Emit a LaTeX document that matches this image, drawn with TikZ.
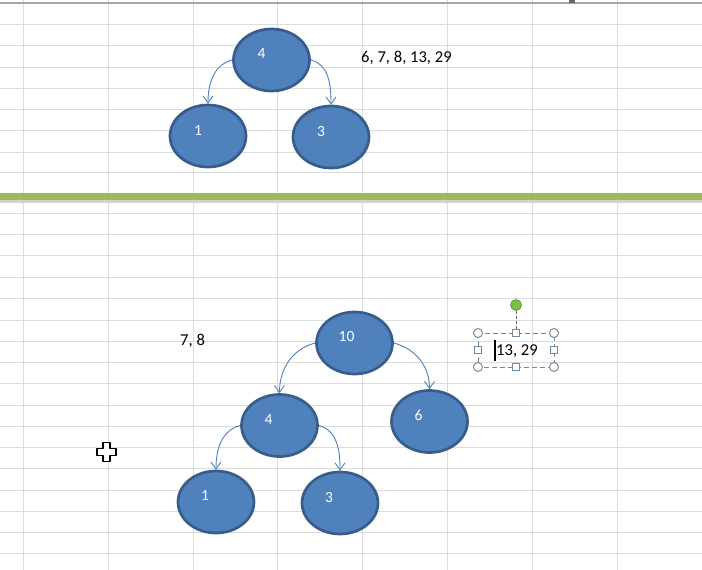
\documentclass[tikz,border=0pt]{standalone}
\usepackage{fontspec}
\setmainfont{Carlito}
\usetikzlibrary{shapes.geometric,arrows.meta}
\definecolor{obfill}{HTML}{4F81BD}
\definecolor{obline}{HTML}{385D8A}
\definecolor{gridc}{HTML}{DADCDE}
\definecolor{greenbar}{HTML}{9BBB59}
\definecolor{selc}{HTML}{6F8BA8}
\definecolor{handleg}{HTML}{7CC242}
\tikzset{
  gridline/.style={draw=gridc,line width=1pt},
  treenode/.style={ellipse,fill=obfill,draw=obline,line width=2.7pt,
    minimum width=76pt,minimum height=62pt,inner sep=0pt},
  lbl/.style={text=white,font=\fontsize{15.5}{18}\selectfont,inner sep=0pt},
  txt/.style={text=black,font=\fontsize{16.6}{19}\selectfont,inner sep=0pt,anchor=west},
  edge/.style={draw=obfill,line width=0.9pt,-{Straight Barb[length=7pt,width=10pt]}},
  selbox/.style={draw=selc,line width=1pt,dash pattern=on 5pt off 3pt},
  cornerh/.style={circle,draw=gray,fill=white,line width=0.9pt,minimum size=9pt,inner sep=0pt},
  sideh/.style={rectangle,draw=selc,fill=white,line width=0.9pt,minimum size=7.5pt,inner sep=0pt},
}
\begin{document}
\begin{tikzpicture}[x=1pt,y=-1pt]
\useasboundingbox (0,0) rectangle (702,570);
\fill[white] (0,0) rectangle (702,570);
% grid
\foreach \x in {23,108,193,277,362,447,532,617}
  \draw[gridline] (\x,0) -- (\x,570);
\foreach \y in {24,45,67,88,109,130,152,172,213,234,255,277,298,320,341,362,383,405,426,447,468,490,511,532,553}
  \draw[gridline] (0,\y) -- (702,\y);
\draw[draw=gray!70,line width=1.2pt] (0,3) -- (702,3);
\fill[gray!80!black] (569,0) rectangle (575,3);
% green separator
\fill[gray!35] (0,198.5) rectangle (702,202.5);
\fill[greenbar] (0,193.3) rectangle (702,199.5);
% top tree
\node[treenode,label={[lbl,xshift=-10pt,yshift=6pt]center:4}] (t4) at (271.5,60) {};
\node[treenode,label={[lbl,xshift=-10pt,yshift=5pt]center:1}] (t1) at (208,136) {};
\node[treenode,label={[lbl,xshift=-10pt,yshift=5pt]center:3}] (t3) at (331,137) {};
\draw[edge] (t4.west) to[out=195,in=90] (t1.north);
\draw[edge] (t4.east) to[out=-15,in=90] (t3.north);
\node[txt] (seq1) at (361,57.5) {6, 7, 8, 13, 29};
% bottom tree
\node[treenode,label={[lbl,xshift=-8pt,yshift=6pt]center:10}] (b10) at (354.5,343) {};
\node[treenode,label={[lbl,xshift=-11pt,yshift=6pt]center:4}] (b4) at (279.5,425.5) {};
\node[treenode,label={[lbl,xshift=-11pt,yshift=6pt]center:6}] (b6) at (429.5,421.5) {};
\node[treenode,label={[lbl,xshift=-11pt,yshift=6pt]center:1}] (b1) at (216,502) {};
\node[treenode,label={[lbl,xshift=-11pt,yshift=5pt]center:3}] (b3) at (340,503) {};
\draw[edge] (b10.west) to[out=195,in=90] (b4.north);
\draw[edge] (b10.east) to[out=-15,in=90] (b6.north);
\draw[edge] (b4.west) to[out=195,in=90] (b1.north);
\draw[edge] (b4.east) to[out=-15,in=90] (b3.north);
\node[txt] (seq2) at (180,341) {7, 8};
% selected text box
\draw[selbox] (478,333) rectangle (554,367);
\node[sideh] (hT) at (516,333) {};
\node[circle,fill=handleg,draw=handleg!70!black,line width=0.6pt,minimum size=11pt,inner sep=0pt] (hR) at (516,305) {};
\draw[draw=gray!80!black,line width=1pt,dash pattern=on 3pt off 2pt] (hR) -- (hT);
\node[cornerh] (c1) at (478,333) {};
\node[cornerh] (c2) at (554,333) {};
\node[cornerh] (c3) at (478,367) {};
\node[cornerh] (c4) at (554,367) {};
\node[sideh] (hB) at (516,367) {};
\node[sideh] (hL) at (478,350) {};
\node[sideh] (hRt) at (554,350) {};
\node[txt] (seq3) at (496,351) {13, 29};
\draw[black,line width=2pt] (494.5,340) -- (494.5,361);
% move cursor
\draw[black,line width=1.6pt,fill=white,line join=round,shift={(106.5,452)}]
  (-3.5,-9.5) -- (3.5,-9.5) -- (3.5,-3.5) -- (9.5,-3.5) -- (9.5,3.5) -- (3.5,3.5)
  -- (3.5,9.5) -- (-3.5,9.5) -- (-3.5,3.5) -- (-9.5,3.5) -- (-9.5,-3.5) -- (-3.5,-3.5) -- cycle;
\end{tikzpicture}
\end{document}
